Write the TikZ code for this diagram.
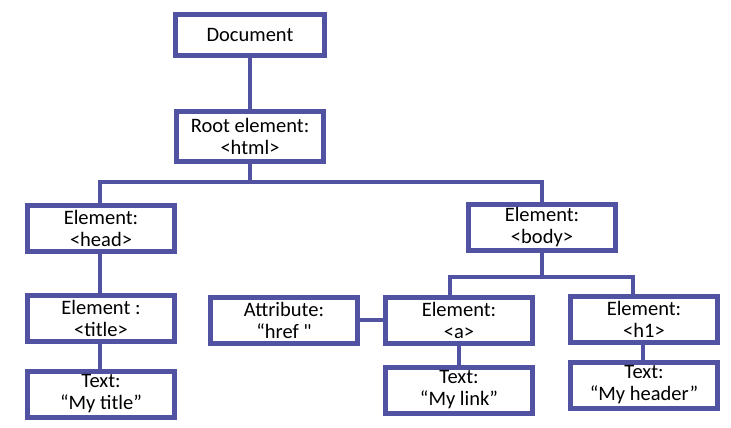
\documentclass[tikz,border=0pt]{standalone}
\usepackage{fontspec}
\setmainfont{Carlito}[Ligatures=TeXOff]
\definecolor{treeblue}{RGB}{82,82,163}

\begin{document}
\begin{tikzpicture}[
  x=1pt, y=-1pt,
  font=\fontsize{20.5}{22}\selectfont,
  box/.style={rectangle, draw=treeblue, line width=5pt,
              minimum width=147pt, minimum height=46pt, inner sep=1pt,
              fill=white, align=center},
  link/.style={draw=treeblue, line width=4pt}
]
\useasboundingbox (0,0) rectangle (731,428);

% ---- top of the tree ----
\node[box, minimum width=149pt, minimum height=41pt] (doc) at (250,35) {Document};
\node[box, minimum height=50pt] (root) at (250,136) {Root element:\\<html>};

% ---- second level ----
\node[box] (head) at (101,228) {Element:\\<head>};
\node[box] (body) at (542,227) {Element:\\<body>};

% ---- third level ----
\node[box] (title) at (101,318) {Element :\\<title>};
\node[box] (attr) at (284,320) {Attribute:\\“href "};
\node[box] (anchor) at (459,320) {Element:\\<a>};
\node[box] (hone) at (644,319) {Element:\\<h1>};

% ---- leaves ----
\node[box] (ttitle) at (101,394) {Text:\\“My title”};
\node[box] (tlink) at (459,390) {Text:\\“My link”};
\node[box] (theader) at (644,385) {Text:\\“My header”};

% ---- connectors ----
\coordinate (bar1) at (250,182);
\coordinate (bar2) at (542,277);
\draw[link] (doc) -- (root);
\draw[link] (root) -- (bar1) -| ([xshift=-1pt]head.north);
\draw[link] (bar1) -| (body.north);
\draw[link] ([xshift=-1pt]head.south) -- ([xshift=-1pt]title.north);
\draw[link] ([xshift=-1pt]title.south) -- ([xshift=-1pt]ttitle.north);
\draw[link] (body) -- (bar2) -| ([xshift=-9pt]anchor.north);
\draw[link] (bar2) -| ([xshift=-11pt]hone.north);
\draw[link] (attr.east) -- (anchor.west);
\draw[link] (anchor.south) -- (tlink.north);
\draw[link] ([xshift=-1pt]hone.south) -- ([xshift=-1pt]theader.north);

\end{tikzpicture}
\end{document}
